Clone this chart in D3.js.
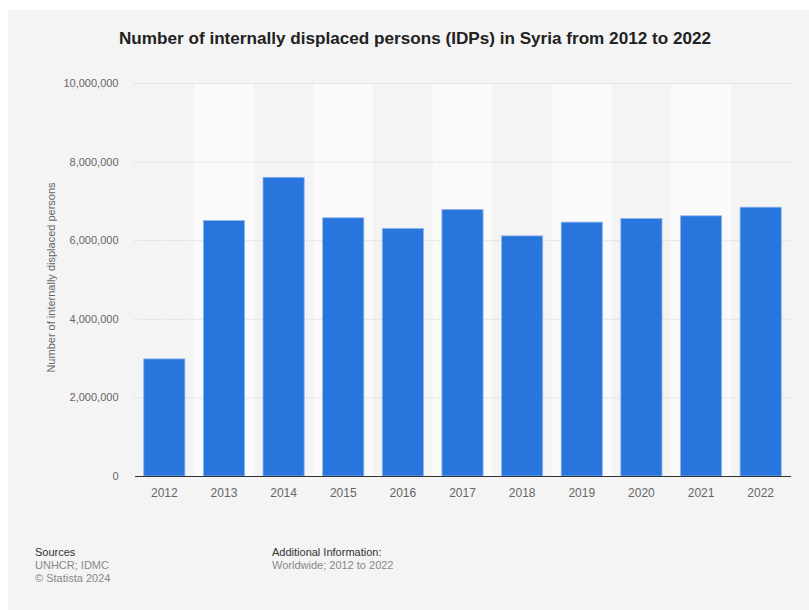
<!DOCTYPE html>
<html><head><meta charset="utf-8">
<script src="https://cdn.jsdelivr.net/npm/d3@7"></script>
<style>body{margin:0;background:#fff;}svg{display:block;}</style>
</head><body>
<script>
const years = ["2012","2013","2014","2015","2016","2017","2018","2019","2020","2021","2022"];
const idps = [2980000, 6500000, 7600000, 6570000, 6300000, 6780000, 6110000, 6460000, 6550000, 6620000, 6840000];
const yTicks = [0, 2000000, 4000000, 6000000, 8000000, 10000000];
const title = "Number of internally displaced persons (IDPs) in Syria from 2012 to 2022";
const yTitle = "Number of internally displaced persons";

(function () {
const W = 809, H = 610;
const svg = d3.select("body").append("svg").attr("width", W).attr("height", H);
svg.append("rect").attr("x", 8).attr("y", 10).attr("width", W - 8).attr("height", H - 10).attr("fill", "#f4f4f4");

const pLeft = 134.5, pRight = 790.5, pTop = 83, pBottom = 476;
const x = d3.scaleBand().domain(years).range([pLeft, pRight]).paddingInner(0.31).paddingOuter(0.155);
const y = d3.scaleLinear().domain([0, 10000000]).range([pBottom, pTop]);
const step = x.step();
const ff = "Liberation Sans, Arial, sans-serif";

// alternating stripes
svg.append("g").selectAll("rect").data(years.filter((d, i) => i % 2 === 1)).join("rect")
  .attr("x", d => x(d) - x.paddingInner() * step / 2)
  .attr("y", pTop).attr("width", step).attr("height", pBottom - pTop).attr("fill", "#fafafa");

// grid + y axis
const yAxis = d3.axisLeft(y).tickValues(yTicks).tickSize(0).tickPadding(0)
  .tickFormat(d => d3.format(",")(d));
const gy = svg.append("g").attr("transform", `translate(${pLeft},0)`).call(yAxis);
gy.select(".domain").remove();
gy.selectAll("text").attr("x", -16).attr("font-family", ff)
  .attr("font-size", 11).attr("fill", "#666");
gy.selectAll(".tick").append("line").attr("x1", 0).attr("x2", pRight - pLeft)
  .attr("stroke", d => d === 0 ? "none" : "#dcdcdc").attr("stroke-width", 1).attr("stroke-dasharray", "2,1");

// bars
svg.append("g").selectAll("rect").data(years).join("rect")
  .attr("x", d => x(d)).attr("width", x.bandwidth())
  .attr("y", (d, i) => y(idps[i])).attr("height", (d, i) => pBottom - y(idps[i]))
  .attr("fill", "#2876dd").attr("stroke", "#8db4ea").attr("stroke-width", 0.8);

// x axis
const xAxis = d3.axisBottom(x).tickSize(0).tickPadding(12);
const gx = svg.append("g").attr("transform", `translate(0,${pBottom})`).call(xAxis);
gx.select(".domain").attr("stroke", "#333").attr("stroke-width", 1.2);
gx.selectAll("text").attr("font-family", ff).attr("font-size", 12).attr("fill", "#666");

// y title
svg.append("text").attr("transform", `translate(55,${(pTop + pBottom) / 2 - 2}) rotate(-90)`)
  .attr("text-anchor", "middle").attr("font-family", ff)
  .attr("font-size", 11).attr("fill", "#666").text(yTitle);

// title
svg.append("text").attr("x", 415).attr("y", 44).attr("text-anchor", "middle")
  .attr("font-family", ff).attr("font-weight", "bold")
  .attr("font-size", 17).attr("fill", "#222").attr("textLength", 592).attr("lengthAdjust", "spacingAndGlyphs").text(title);

// footer
const foot = svg.append("g").attr("font-family", ff).attr("font-size", 11);
foot.append("text").attr("x", 35).attr("y", 556).attr("fill", "#333").text("Sources");
foot.append("text").attr("x", 35).attr("y", 569).attr("fill", "#888").text("UNHCR; IDMC");
foot.append("text").attr("x", 35).attr("y", 582).attr("fill", "#888").text("© Statista 2024");
foot.append("text").attr("x", 272).attr("y", 556).attr("fill", "#333").text("Additional Information:");
foot.append("text").attr("x", 272).attr("y", 569).attr("fill", "#888").text("Worldwide; 2012 to 2022");
})();
</script>
</body></html>
